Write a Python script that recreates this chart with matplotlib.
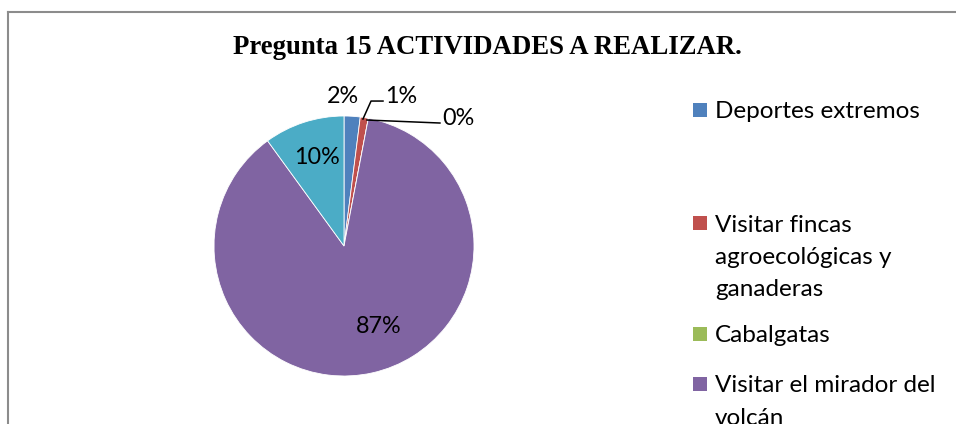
import matplotlib.pyplot as plt
from matplotlib.patches import Rectangle
from matplotlib.lines import Line2D

title = 'Pregunta 15 ACTIVIDADES A REALIZAR.'
categories = ['Deportes extremos',
              'Visitar fincas\nagroecológicas y\nganaderas',
              'Cabalgatas',
              'Visitar el mirador del\nvolcán',
              '']
values = [2, 1, 0, 87, 10]
pct_labels = ['2%', '1%', '0%', '87%', '10%']
colors = ['#4F81BD', '#C0504D', '#9BBB59', '#8064A2', '#4BACC6']

W, H = 956, 424
fig = plt.figure(figsize=(W / 100, H / 100), dpi=100)

# chart area frame (cut at right and bottom in the original)
fig.add_artist(Line2D([7.5 / W, 7.5 / W], [0, 1 - 11.5 / H], color='#8c8c8c', lw=1.5))
fig.add_artist(Line2D([7.5 / W, 1], [1 - 11.5 / H, 1 - 11.5 / H], color='#8c8c8c', lw=1.5))

fig.text(487 / W, 1 - 47 / H, title, ha='center', va='center',
         family='Liberation Serif', fontweight='bold', fontsize=19.3)

# pie: center (344, 246) px, radius 130 px
cx, cy, r = 344, 246, 130
ax = fig.add_axes([(cx - r) / W, (H - cy - r) / H, 2 * r / W, 2 * r / H])
wedges, _ = ax.pie(values, colors=colors, startangle=90, counterclock=False,
                   radius=1, wedgeprops=dict(edgecolor='white', linewidth=0.6))
ax.set_xlim(-1, 1)
ax.set_ylim(-1, 1)
ax.set_aspect('equal')
ax.axis('off')

lab_font = dict(family='Lato', fontsize=16.8, color='black', ha='center', va='center')
ax.text(0.27, -0.62, pct_labels[3], **lab_font)
ax.text(-0.21, 0.68, pct_labels[4], **lab_font)
ax.text(-0.01, 1.15, pct_labels[0], **lab_font)
ax.text(0.44, 1.15, pct_labels[1], **lab_font)
ax.text(0.88, 0.98, pct_labels[2], **lab_font)
ax.plot([0.146, 0.208, 0.30], [0.977, 1.115, 1.115], color='black', lw=1.1, clip_on=False)
ax.plot([0.177, 0.738], [0.969, 0.946], color='black', lw=1.1, clip_on=False)

# legend drawn entry by entry (Excel style spacing), one text per line
leg_y = [110, 223, 334, 384]
line_step = 32.5
for lab, col, y in zip(categories[:4], colors[:4], leg_y):
    fig.add_artist(Rectangle((693 / W, 1 - (y + 7) / H), 14 / W, 14 / H,
                             facecolor=col, edgecolor='none'))
    for i, line in enumerate(lab.split('\n')):
        fig.text(715 / W, 1 - (y + i * line_step) / H, line, ha='left',
                 va='center_baseline', family='Lato', fontsize=17.5)

fig.savefig('out.png', dpi=100)
